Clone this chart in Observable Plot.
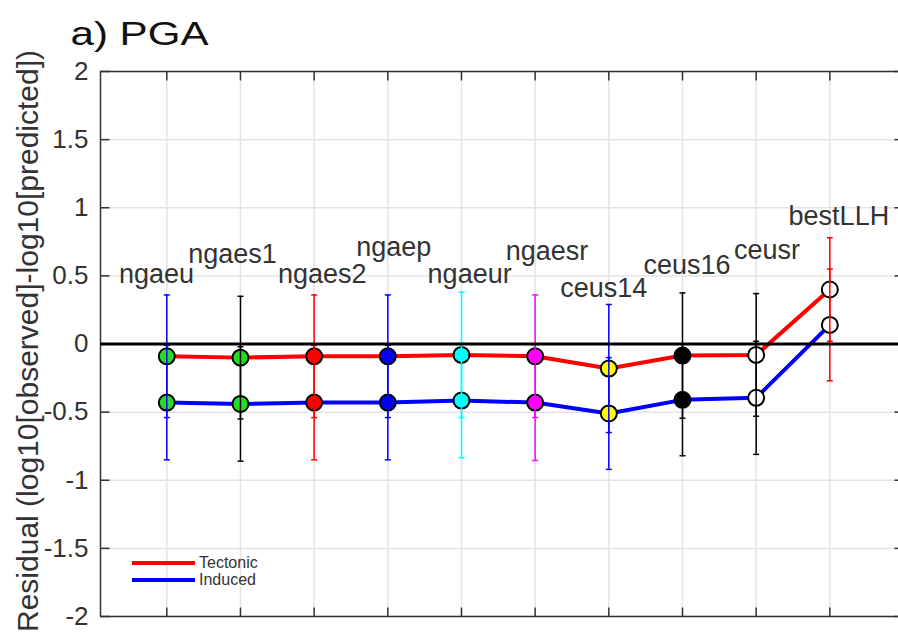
<!DOCTYPE html>
<html>
<head>
<meta charset="utf-8">
<script src="https://cdn.jsdelivr.net/npm/d3@7"></script>
<script src="https://cdn.jsdelivr.net/npm/@observablehq/plot@0.6"></script>
<style>
  html, body { margin: 0; padding: 0; background: #fff; overflow: hidden; }
  #chart { position: relative; width: 898px; height: 633px; }
  #chart svg { display: block; overflow: hidden; }
  .legend { position: absolute; left: 132px; top: 554px; font-family: "Liberation Sans", Arial, sans-serif; font-size: 16px; line-height: 17px; color: #333; }
  .legend .row { display: flex; align-items: center; height: 17px; }
  .legend .sw { display: inline-block; width: 63px; height: 4px; margin-right: 4px; }
</style>
</head>
<body>
<div id="chart"></div>
<script>
// GMPE models compared (one column each)
const models = ["ngaeu", "ngaes1", "ngaes2", "ngaep", "ngaeur", "ngaesr", "ceus14", "ceus16", "ceusr", "bestLLH"];

// Mean residual and one-sigma spread for the tectonic events
const tectonicMean = [-0.09, -0.10, -0.09, -0.09, -0.08, -0.09, -0.18, -0.085, -0.08, 0.40];
const tectonicErr  = [0.45, 0.45, 0.45, 0.45, 0.46, 0.45, 0.47, 0.46, 0.45, 0.38];

// Mean residual and one-sigma spread for the induced events
const inducedMean = [-0.43, -0.44, -0.43, -0.43, -0.415, -0.43, -0.51, -0.41, -0.395, 0.14];
const inducedErr  = [0.42, 0.42, 0.42, 0.42, 0.42, 0.425, 0.41, 0.41, 0.415, 0.41];

// Marker fill and error-bar colour of each model
const markerColors = ["#22dd22", "#22dd22", "#ff0000", "#0000ee", "#00ffff", "#ff00ff", "#ffff00", "#000000", "#ffffff", "#ffffff"];
const barColors    = ["#0000ff", "#000000", "#ff0000", "#0000ff", "#00ffff", "#ff00ff", "#0000ff", "#000000", "#000000", "#ff0000"];

// Model name annotations, anchored in data units (left end, vertical middle)
const labelX = [0.35, 1.29, 2.51, 3.57, 4.54, 5.60, 6.34, 7.47, 8.70, 9.44];
const labelY = [0.51, 0.66, 0.51, 0.71, 0.51, 0.68, 0.41, 0.58, 0.69, 0.94];

const yTicks = [-2, -1.5, -1, -0.5, 0, 0.5, 1, 1.5, 2];
const xTicks = [1, 2, 3, 4, 5, 6, 7, 8, 9, 10];
const xDomain = [0.1, 11];
const yDomain = [-2, 2];

const titleText = "a) PGA";
const yLabelText = "Residual (log10[observed]-log10[predicted])";
const seriesNames = ["Tectonic", "Induced"];
const seriesColors = ["#ff0000", "#0000ff"];

const FONT = "'Liberation Sans', Arial, Helvetica, sans-serif";
const AXIS = "#333333";

const rows = models.map((name, i) => ({
  name,
  x: i + 1,
  t: tectonicMean[i], te: tectonicErr[i],
  n: inducedMean[i], ne: inducedErr[i],
  mc: markerColors[i], bc: barColors[i],
  lx: labelX[i], ly: labelY[i]
}));

// Horizontal cap for error bars
const capSymbol = {
  draw(ctx, size) {
    const r = Math.sqrt(size / Math.PI);
    ctx.moveTo(-r, 0);
    ctx.lineTo(r, 0);
  }
};
// Inward-pointing axis tick in direction (ux, uy)
const tickSymbol = (ux, uy) => ({
  draw(ctx, size) {
    const r = Math.sqrt(size / Math.PI);
    ctx.moveTo(0, 0);
    ctx.lineTo(ux * r, uy * r);
  }
});

const errorBars = (y, e) => [
  Plot.ruleX(rows, {x: "x", y1: d => d[y] - d[e], y2: d => d[y] + d[e], stroke: "bc", strokeWidth: 1.5}),
  Plot.dot(rows, {x: "x", y: d => d[y] + d[e], symbol: capSymbol, r: 3, stroke: "bc", strokeWidth: 1.5, fill: "none"}),
  Plot.dot(rows, {x: "x", y: d => d[y] - d[e], symbol: capSymbol, r: 3, stroke: "bc", strokeWidth: 1.5, fill: "none"})
];

const chart = Plot.plot({
  width: 898,
  height: 633,
  marginTop: 71,
  marginBottom: 17,
  marginLeft: 100,
  marginRight: 0,
  style: {fontFamily: FONT, background: "white", overflow: "hidden"},
  x: {domain: xDomain, range: [100, 903], axis: null},
  y: {domain: yDomain, range: [616, 71], axis: null},
  color: {type: "identity"},
  marks: [
    // grid
    Plot.ruleX(xTicks, {stroke: "#e4e4e4", strokeWidth: 1.5}),
    Plot.ruleY(yTicks, {stroke: "#e4e4e4", strokeWidth: 1.5}),

    // axes box (left, top, bottom) and inward ticks
    Plot.ruleX([xDomain[0]], {stroke: AXIS, strokeWidth: 1.5}),
    Plot.ruleY(yDomain, {stroke: AXIS, strokeWidth: 1.5}),
    Plot.dot(yTicks, {x: xDomain[0], y: d => d, symbol: tickSymbol(1, 0), r: 9, stroke: AXIS, strokeWidth: 1.5}),
    Plot.dot(yTicks, {x: xDomain[1], y: d => d, symbol: tickSymbol(-1, 0), r: 9, stroke: AXIS, strokeWidth: 1.5}),
    Plot.dot(xTicks, {x: d => d, y: yDomain[1], symbol: tickSymbol(0, 1), r: 9, stroke: AXIS, strokeWidth: 1.5}),
    Plot.dot(xTicks, {x: d => d, y: yDomain[0], symbol: tickSymbol(0, -1), r: 9, stroke: AXIS, strokeWidth: 1.5}),

    Plot.axisY(yTicks, {tickSize: 0, tickPadding: 12, fontSize: 26, fill: AXIS, tickFormat: d => String(d), label: null}),

    // mean residual lines
    Plot.line(rows, {x: "x", y: "t", stroke: seriesColors[0], strokeWidth: 4}),
    Plot.line(rows, {x: "x", y: "n", stroke: seriesColors[1], strokeWidth: 4}),

    // tectonic error bars beneath the markers
    ...errorBars("t", "te"),

    Plot.dot(rows, {x: "x", y: "t", r: 8, fill: "mc", stroke: "black", strokeWidth: 2}),
    Plot.dot(rows, {x: "x", y: "n", r: 8, fill: "mc", stroke: "black", strokeWidth: 2}),

    // induced error bars over the markers
    ...errorBars("n", "ne"),

    // zero-residual reference
    Plot.ruleY([0], {stroke: "black", strokeWidth: 3}),

    // model names
    Plot.text(rows, {x: "lx", y: "ly", text: "name", textAnchor: "start", fontSize: 27, fill: "#333"}),

    // title and y-axis label
    Plot.text([titleText], {frameAnchor: "top-left", dx: -30, dy: -50, textAnchor: "start", fontSize: 33, fill: "#111"}),
    Plot.text([yLabelText], {frameAnchor: "left", dx: -72, dy: -3, rotate: -90, textAnchor: "middle", lineAnchor: "middle", fontSize: 30, fill: AXIS})
  ]
});

d3.select(chart).selectAll("text").each(function() {
  if (this.textContent === titleText) {
    this.setAttribute("textLength", 138);
    this.setAttribute("lengthAdjust", "spacingAndGlyphs");
  }
});

const host = document.getElementById("chart");
host.appendChild(chart);

// legend
const legend = document.createElement("div");
legend.className = "legend";
seriesNames.forEach((name, i) => {
  const row = document.createElement("div");
  row.className = "row";
  const sw = document.createElement("span");
  sw.className = "sw";
  sw.style.background = seriesColors[i];
  row.appendChild(sw);
  row.appendChild(document.createTextNode(name));
  legend.appendChild(row);
});
host.appendChild(legend);
</script>
</body>
</html>
